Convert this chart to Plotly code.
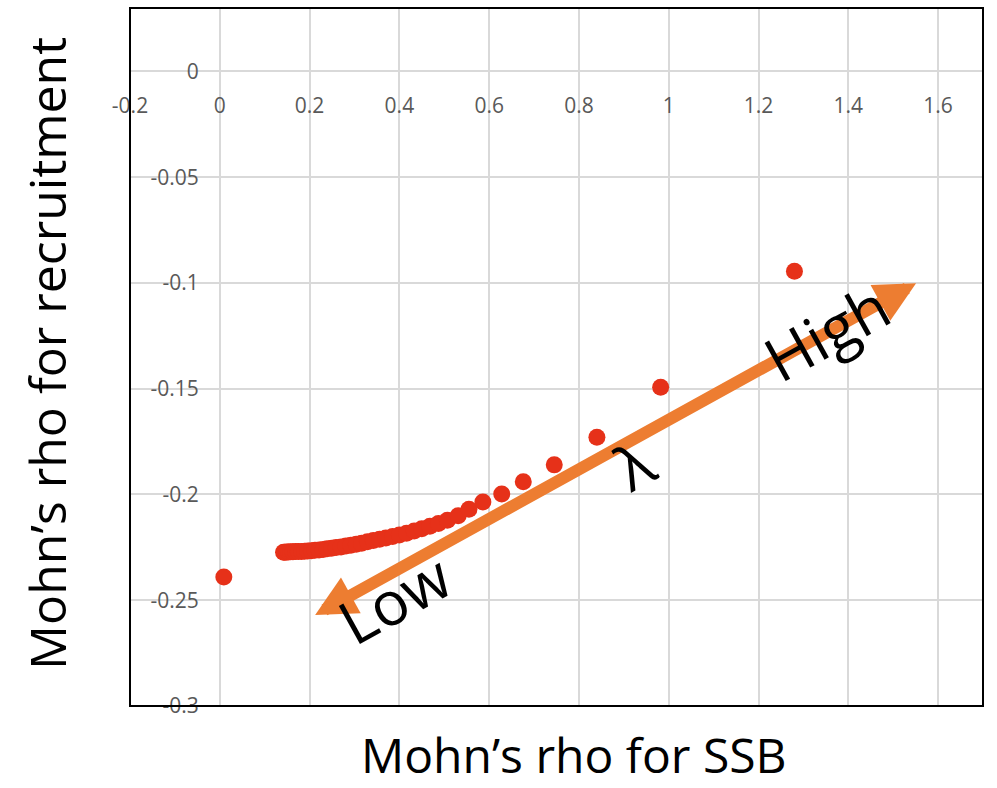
import plotly.graph_objects as go

# Mohn's rho values
ssb_rho = [0.009,
           0.142, 0.145, 0.149, 0.153, 0.158, 0.163, 0.169, 0.175, 0.182, 0.189,
           0.196, 0.204, 0.212, 0.221, 0.230, 0.239, 0.249, 0.259, 0.270, 0.281,
           0.292, 0.304, 0.316, 0.329, 0.342, 0.356, 0.370, 0.385, 0.400, 0.416,
           0.433, 0.450, 0.468, 0.487, 0.507, 0.531, 0.555, 0.586, 0.628, 0.676,
           0.745, 0.840, 0.982, 1.280]
rec_rho = [-0.2390,
           -0.2273, -0.2273, -0.2272, -0.2272, -0.2271, -0.2271, -0.2270, -0.2270, -0.2269, -0.2268,
           -0.2267, -0.2266, -0.2264, -0.2262, -0.2260, -0.2257, -0.2254, -0.2251, -0.2248, -0.2244,
           -0.2240, -0.2235, -0.2230, -0.2224, -0.2218, -0.2212, -0.2206, -0.2199, -0.2192, -0.2183,
           -0.2173, -0.2162, -0.2150, -0.2137, -0.2122, -0.2100, -0.2070, -0.2036, -0.1998, -0.1940,
           -0.1860, -0.1729, -0.1493, -0.0945]

x_ticks = [-0.2, 0, 0.2, 0.4, 0.6, 0.8, 1.0, 1.2, 1.4, 1.6]
x_tick_labels = ["-0.2", "0", "0.2", "0.4", "0.6", "0.8", "1", "1.2", "1.4", "1.6"]
y_ticks = [0, -0.05, -0.1, -0.15, -0.2, -0.25, -0.3]
y_tick_labels = ["0", "-0.05", "-0.1", "-0.15", "-0.2", "-0.25", "-0.3"]

x_range = [-0.2, 1.7]
y_range = [-0.3, 0.03]

RED = "#E63119"
ORANGE = "#ED7D31"
GRID = "#D9D9D9"
TICK = "#595959"
FONT = "Open Sans"

fig = go.Figure()
fig.add_trace(go.Scatter(
    x=ssb_rho, y=rec_rho, mode="markers",
    marker=dict(color=RED, size=17, line=dict(width=0)),
    showlegend=False, hoverinfo="x+y",
))

# axis crossing positions (paper fractions of the plot area)
x_cross = (0 - y_range[0]) / (y_range[1] - y_range[0])
y_cross = (0 - x_range[0]) / (x_range[1] - x_range[0])

fig.update_layout(
    width=997, height=788,
    margin=dict(l=130, r=14, t=8, b=82),
    paper_bgcolor="white", plot_bgcolor="white",
    font=dict(family=FONT),
    xaxis=dict(
        range=x_range, tickvals=x_ticks, ticktext=x_tick_labels,
        showgrid=True, gridcolor=GRID, gridwidth=1.5,
        zeroline=False, showline=False, ticks="",
        anchor="free", position=x_cross, side="bottom",
        ticklabelstandoff=20,
        tickfont=dict(size=21, color=TICK, family=FONT),
    ),
    yaxis=dict(
        range=y_range, tickvals=y_ticks, ticktext=y_tick_labels,
        showgrid=True, gridcolor=GRID, gridwidth=1.5,
        zeroline=False, showline=False, ticks="",
        anchor="free", position=y_cross, side="left",
        ticklabelstandoff=21,
        tickfont=dict(size=21, color=TICK, family=FONT),
    ),
    shapes=[dict(type="rect", xref="paper", yref="paper", x0=0, x1=1, y0=0, y1=1,
                 line=dict(color="black", width=2), layer="above")],
)

# lambda arrow (double headed)
fig.add_annotation(
    x=1.551, y=-0.1001, ax=0.209, ay=-0.2574,
    xref="x", yref="y", axref="x", ayref="y",
    text="", showarrow=True, arrowside="end+start",
    arrowhead=2, startarrowhead=2, arrowsize=0.68, startarrowsize=0.68,
    arrowwidth=12, arrowcolor=ORANGE,
)
for txt, tx, ty in [("High", 1.352, -0.1230), ("Low", 0.388, -0.2490), ("λ", 0.922, -0.1860)]:
    fig.add_annotation(x=tx, y=ty, xref="x", yref="y", text=txt, showarrow=False,
                       textangle=-29, font=dict(size=61, color="black", family=FONT),
                       xanchor="center", yanchor="middle")

# axis titles
fig.add_annotation(x=0.52, y=-0.070, xref="paper", yref="paper",
                   text="Mohn’s rho for SSB", showarrow=False,
                   font=dict(size=48, color="black", family=FONT),
                   xanchor="center", yanchor="middle")
fig.add_annotation(x=-0.098, y=0.505, xref="paper", yref="paper",
                   text="Mohn’s rho for recruitment", showarrow=False, textangle=-90,
                   font=dict(size=50, color="black", family=FONT),
                   xanchor="center", yanchor="middle")

fig.write_html("out.html")
